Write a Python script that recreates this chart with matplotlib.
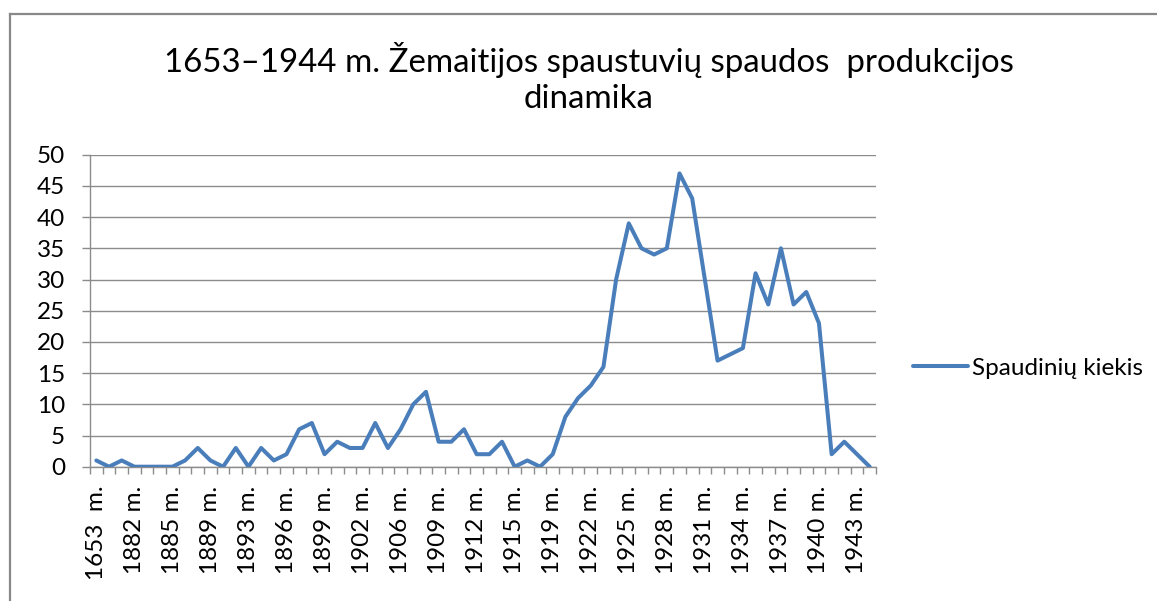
import matplotlib
matplotlib.use("Agg")
import matplotlib.pyplot as plt
from matplotlib.lines import Line2D
import numpy as np

plt.rcParams['font.family'] = ['Lato', 'DejaVu Sans']

title = "1653–1944 m. Žemaitijos spaustuvių spaudos  produkcijos\ndinamika"
series_name = "Spaudinių kiekis"

values = [1, 0, 1, 0, 0, 0, 0, 1, 3, 1,
          0, 3, 0, 3, 1, 2, 6, 7, 2, 4,
          3, 3, 7, 3, 6, 10, 12, 4, 4, 6,
          2, 2, 4, 0, 1, 0, 2, 8, 11, 13,
          16, 30, 39, 35, 34, 35, 47, 43, 30, 17,
          18, 19, 31, 26, 35, 26, 28, 23, 2, 4,
          2, 0]

tick_labels = ["1653  m.", "1882 m.", "1885 m.", "1889 m.", "1893 m.", "1896 m.",
               "1899 m.", "1902 m.", "1906 m.", "1909 m.", "1912 m.", "1915 m.",
               "1919 m.", "1922 m.", "1925 m.", "1928 m.", "1931 m.", "1934 m.",
               "1937 m.", "1940 m.", "1943 m."]
label_step = 3
y_ticks = [0, 5, 10, 15, 20, 25, 30, 35, 40, 45, 50]

W, H = 1157, 601
fig = plt.figure(figsize=(W / 100, H / 100), dpi=100)

left, right, top, bottom = 90, 876, 154.7, 466.7
ax = fig.add_axes([left / W, (H - bottom) / H, (right - left) / W, (bottom - top) / H])

x = np.arange(len(values))
line_color = '#4A7EBB'
grid_color = '#8C8C8C'
fs = 17.5
ax.plot(x, values, color=line_color, lw=2.9, solid_joinstyle='round',
        solid_capstyle='round', label=series_name, zorder=3)

ax.set_xlim(-0.5, len(values) - 0.5)
ax.set_ylim(0, 50)
ax.set_yticks(y_ticks)
ax.set_yticklabels([str(v) for v in y_ticks], fontsize=fs, color='#000000')
ax.yaxis.grid(True, color=grid_color, lw=1.0)
ax.set_axisbelow(True)

pos = np.arange(0, len(values), label_step)[:len(tick_labels)]
ax.set_xticks(pos)
ax.set_xticklabels(tick_labels, rotation=90, fontsize=fs, va='top', ha='center')
ax.set_xticks(np.arange(-0.5, len(values), 1.0), minor=True)
ax.tick_params(axis='x', which='major', length=0, pad=13.5)
ax.tick_params(axis='x', which='minor', length=5.2, width=1.0, color=grid_color, direction='out')
ax.tick_params(axis='y', which='major', length=5.8, width=1.0, color=grid_color, pad=12)

for s in ['top', 'right']:
    ax.spines[s].set_visible(False)
for s in ['left', 'bottom']:
    ax.spines[s].set_color(grid_color)
    ax.spines[s].set_linewidth(1.0)

fig.text(589 / W, (H - 78) / H, title, ha='center', va='center', fontsize=23.8,
         linespacing=1.25, color='#000000')

leg = ax.legend(loc='center left', bbox_to_anchor=(913 / W, (H - 368) / H),
                bbox_transform=fig.transFigure, frameon=False, fontsize=fs,
                handlelength=55 * 0.72 / fs, handletextpad=0.15, borderpad=0, borderaxespad=0)

# chart border
fig.add_artist(Line2D([10 / W, 10 / W], [0, (H - 14) / H], transform=fig.transFigure,
                      color='#888888', lw=1.6))
fig.add_artist(Line2D([10 / W, 1], [(H - 14) / H, (H - 14) / H], transform=fig.transFigure,
                      color='#888888', lw=1.6))

fig.savefig('out.png', dpi=100)
